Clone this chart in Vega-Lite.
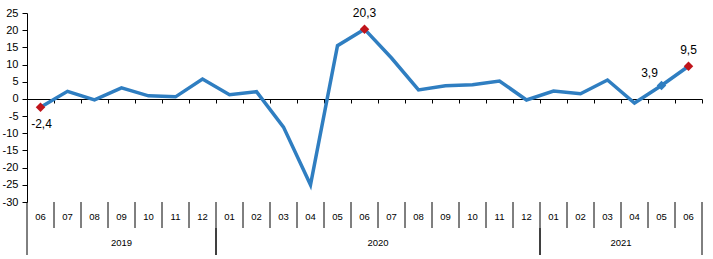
{
  "$schema": "https://vega.github.io/schema/vega-lite/v6.json",
  "padding": {"left": 2, "top": 7, "right": 5, "bottom": 2},
  "background": "white",
  "config": {
    "font": "Liberation Sans",
    "view": {"stroke": null},
    "locale": {"number": {"decimal": ",", "thousands": ".", "grouping": [3], "currency": ["", ""], "minus": "-"}}
  },
  "datasets": {
    "months": [
      {"ym": "2019-06", "m": "06", "y": "2019", "v": -2.4, "kind": "june"},
      {"ym": "2019-07", "m": "07", "y": "2019", "v": 2.2},
      {"ym": "2019-08", "m": "08", "y": "2019", "v": -0.3},
      {"ym": "2019-09", "m": "09", "y": "2019", "v": 3.2},
      {"ym": "2019-10", "m": "10", "y": "2019", "v": 0.9},
      {"ym": "2019-11", "m": "11", "y": "2019", "v": 0.6},
      {"ym": "2019-12", "m": "12", "y": "2019", "v": 5.8},
      {"ym": "2020-01", "m": "01", "y": "2020", "v": 1.2},
      {"ym": "2020-02", "m": "02", "y": "2020", "v": 2.1},
      {"ym": "2020-03", "m": "03", "y": "2020", "v": -8.2},
      {"ym": "2020-04", "m": "04", "y": "2020", "v": -25.0},
      {"ym": "2020-05", "m": "05", "y": "2020", "v": 15.5},
      {"ym": "2020-06", "m": "06", "y": "2020", "v": 20.3, "kind": "june"},
      {"ym": "2020-07", "m": "07", "y": "2020", "v": 11.9},
      {"ym": "2020-08", "m": "08", "y": "2020", "v": 2.6},
      {"ym": "2020-09", "m": "09", "y": "2020", "v": 3.8},
      {"ym": "2020-10", "m": "10", "y": "2020", "v": 4.1},
      {"ym": "2020-11", "m": "11", "y": "2020", "v": 5.2},
      {"ym": "2020-12", "m": "12", "y": "2020", "v": -0.3},
      {"ym": "2021-01", "m": "01", "y": "2021", "v": 2.3},
      {"ym": "2021-02", "m": "02", "y": "2021", "v": 1.5},
      {"ym": "2021-03", "m": "03", "y": "2021", "v": 5.5},
      {"ym": "2021-04", "m": "04", "y": "2021", "v": -1.2},
      {"ym": "2021-05", "m": "05", "y": "2021", "v": 3.9, "kind": "latest"},
      {"ym": "2021-06", "m": "06", "y": "2021", "v": 9.5, "kind": "june"}
    ],
    "years": [
      {"year": "2019", "first": "2019-06", "last": "2019-12", "center": "2019-09"},
      {"year": "2020", "first": "2020-01", "last": "2020-12", "center": "2020-07"},
      {"year": "2021", "first": "2021-01", "last": "2021-06", "center": "2021-04"}
    ]
  },
  "vconcat": [
    {
      "width": 675,
      "height": 189,
      "data": {"name": "months"},
      "encoding": {
        "x": {
          "field": "ym", "type": "ordinal",
          "scale": {"type": "band", "paddingInner": 0, "paddingOuter": 0},
          "axis": {"title": null, "labels": false, "orient": "bottom", "offset": -103, "tickBand": "extent", "tickSize": 4, "tickColor": "black", "domainColor": "black", "grid": false}
        },
        "y": {
          "field": "v", "type": "quantitative",
          "scale": {"domain": [-30, 25], "nice": false, "zero": false},
          "axis": {"title": null, "values": [-30, -25, -20, -15, -10, -5, 0, 5, 10, 15, 20, 25], "format": "d", "grid": false, "domainColor": "black", "tickColor": "black", "tickSize": 5, "labelFontSize": 11, "labelColor": "black", "labelPadding": 4}
        }
      },
      "layer": [
        {"mark": {"type": "line", "color": "#2F7EC1", "strokeWidth": 3.5}},
        {
          "transform": [{"filter": "isValid(datum.kind)"}],
          "mark": {"type": "point", "shape": "diamond", "filled": true, "size": 90, "opacity": 1},
          "encoding": {"color": {"field": "kind", "type": "nominal", "scale": {"domain": ["june", "latest"], "range": ["#C0141B", "#2F7EC1"]}, "legend": null}}
        },
        {
          "transform": [{"filter": "datum.kind == 'june' && datum.v < 0"}],
          "mark": {"type": "text", "fontSize": 12, "color": "black", "dy": 17, "dx": 1},
          "encoding": {"text": {"field": "v", "type": "quantitative", "format": ".1f"}}
        },
        {
          "transform": [{"filter": "datum.kind == 'june' && datum.v >= 0"}],
          "mark": {"type": "text", "fontSize": 12, "color": "black", "dy": -16},
          "encoding": {"text": {"field": "v", "type": "quantitative", "format": ".1f"}}
        },
        {
          "transform": [{"filter": "datum.kind == 'latest'"}],
          "mark": {"type": "text", "fontSize": 12, "color": "black", "dy": -13, "dx": -12},
          "encoding": {"text": {"field": "v", "type": "quantitative", "format": ".1f"}}
        }
      ]
    },
    {
      "width": 675,
      "height": 26,
      "data": {"name": "months"},
      "layer": [
        {
          "mark": {"type": "text", "fontSize": 9.5, "color": "black", "dy": 2},
          "encoding": {
            "x": {"field": "ym", "type": "ordinal", "scale": {"type": "band", "paddingInner": 0, "paddingOuter": 0}, "axis": null},
            "text": {"field": "m"}
          }
        },
        {
          "mark": {"type": "rule", "color": "black", "strokeWidth": 1},
          "encoding": {"x": {"field": "ym", "type": "ordinal", "bandPosition": 0, "scale": {"type": "band", "paddingInner": 0, "paddingOuter": 0}, "axis": null}}
        },
        {
          "transform": [{"filter": "datum.ym == '2021-06'"}],
          "mark": {"type": "rule", "color": "black", "strokeWidth": 1},
          "encoding": {"x": {"field": "ym", "type": "ordinal", "bandPosition": 1, "scale": {"type": "band", "paddingInner": 0, "paddingOuter": 0}, "axis": null}}
        }
      ]
    },
    {
      "width": 675,
      "height": 27,
      "data": {"name": "years"},
      "layer": [
        {
          "transform": [{"filter": "datum.year == '2019'"}],
          "mark": {"type": "text", "fontSize": 9.5, "color": "black", "dy": 1},
          "encoding": {
            "x": {"field": "center", "type": "ordinal", "bandPosition": 0.5, "scale": {"type": "band", "paddingInner": 0, "paddingOuter": 0}, "axis": null},
            "text": {"field": "year"}
          }
        },
        {
          "transform": [{"filter": "datum.year != '2019'"}],
          "mark": {"type": "text", "fontSize": 9.5, "color": "black", "dy": 1},
          "encoding": {
            "x": {"field": "center", "type": "ordinal", "bandPosition": 0, "scale": {"type": "band", "paddingInner": 0, "paddingOuter": 0}, "axis": null},
            "text": {"field": "year"}
          }
        },
        {
          "mark": {"type": "rule", "color": "black", "strokeWidth": 1},
          "encoding": {"x": {"field": "first", "type": "ordinal", "bandPosition": 0, "scale": {"type": "band", "paddingInner": 0, "paddingOuter": 0}, "axis": null}}
        },
        {
          "mark": {"type": "rule", "color": "black", "strokeWidth": 1},
          "encoding": {"x": {"field": "last", "type": "ordinal", "bandPosition": 1, "scale": {"type": "band", "paddingInner": 0, "paddingOuter": 0}, "axis": null}}
        }
      ]
    }
  ],
  "spacing": 0,
  "bounds": "flush",
  "resolve": {"scale": {"x": "shared"}}
}
